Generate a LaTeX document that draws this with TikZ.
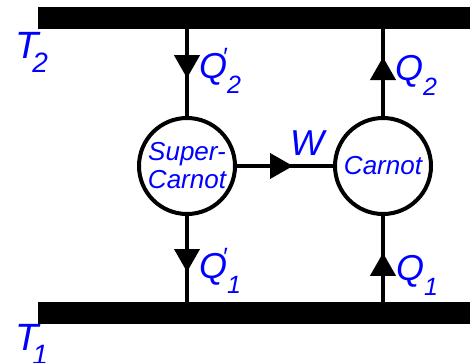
\documentclass[tikz,border=0pt]{standalone}
\usepackage{fontspec}
\setmainfont{Liberation Sans}
\usetikzlibrary{arrows.meta,decorations.markings}
\newcommand\subq[1]{\raisebox{-15pt}{\fontsize{25}{25}\selectfont #1}}
\newcommand\primeq{\rlap{\kern-5pt\raisebox{13pt}{\fontsize{25}{25}\selectfont ′}}}
\newcommand\subt[1]{\kern-6pt\raisebox{-14pt}{\fontsize{28}{28}\selectfont #1}}
\begin{document}
\begin{tikzpicture}[x=1pt,y=-1pt,
 lbl/.style={text=blue, font=\fontsize{36}{36}\selectfont\itshape, inner sep=0pt, anchor=base west},
 tlbl/.style={text=blue, font=\fontsize{38}{38}\selectfont\itshape, inner sep=0pt, anchor=base west},
 bar/.style={fill=black, minimum width=432pt, minimum height=22pt, inner sep=0pt, draw=none},
 engine/.style={circle, draw=black, line width=4pt, minimum size=96pt, inner sep=0pt, text=blue, font=\fontsize{26}{28}\selectfont\itshape, align=center},
 conn/.style={line width=4pt},
 tipat/.style={postaction={decorate}, decoration={markings, mark=at position #1 with {\arrow{Triangle[length=23pt,width=25pt]}}}}
]
\useasboundingbox (0,0) rectangle (470,362);
\node[bar] (hot) at (254,18) {};
\node[bar] (cold) at (254,313) {};
\node[engine] (sc) at (187,166) {Super-\\Carnot};
\node[engine] (c) at (383,166) {Carnot};
\draw[conn, tipat=49pt] (sc |- hot.south) -- (sc.north);
\draw[conn, tipat=56pt] (sc.south) -- (sc |- cold.north);
\draw[conn, tipat=59pt] (c.north) -- (c |- hot.south);
\draw[conn, tipat=49pt] (c |- cold.north) -- (c.south);
\draw[conn, tipat=56pt] (sc.east) -- (c.west);
\node[tlbl] (t2) at (15,58) {T\subt{2}};
\node[tlbl] (t1) at (15,350) {T\subt{1}};
\node[lbl] (q2p) at (199,78) {Q\primeq\subq{2}};
\node[lbl] (q2) at (395,80) {Q\subq{2}};
\node[lbl] (q1p) at (199,278) {Q\primeq\subq{1}};
\node[lbl] (q1) at (396,280) {Q\subq{1}};
\node[lbl] (w) at (290,155) {W};
\end{tikzpicture}
\end{document}
